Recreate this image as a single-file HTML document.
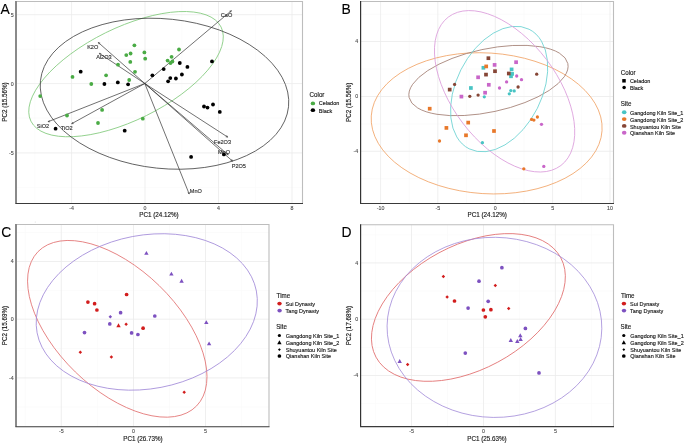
<!DOCTYPE html>
<html><head><meta charset="utf-8"><style>
html,body{margin:0;padding:0;background:#fff;}
body{width:685px;height:443px;overflow:hidden;font-family:"Liberation Sans", sans-serif;}
svg{display:block;will-change:transform;}
</style></head><body>
<svg width="685" height="443" viewBox="0 0 685 443" font-family='"Liberation Sans", sans-serif'>
<rect width="685" height="443" fill="#fff"/>
<line x1="34.9" y1="1.5" x2="34.9" y2="203.5" stroke="#f8f8f8" stroke-width="0.6"/>
<line x1="108.3" y1="1.5" x2="108.3" y2="203.5" stroke="#f8f8f8" stroke-width="0.6"/>
<line x1="181.8" y1="1.5" x2="181.8" y2="203.5" stroke="#f8f8f8" stroke-width="0.6"/>
<line x1="255.3" y1="1.5" x2="255.3" y2="203.5" stroke="#f8f8f8" stroke-width="0.6"/>
<line x1="16" y1="49.2" x2="302.5" y2="49.2" stroke="#f8f8f8" stroke-width="0.6"/>
<line x1="16" y1="118.0" x2="302.5" y2="118.0" stroke="#f8f8f8" stroke-width="0.6"/>
<line x1="16" y1="187.4" x2="302.5" y2="187.4" stroke="#f8f8f8" stroke-width="0.6"/>
<line x1="71.6" y1="1.5" x2="71.6" y2="203.5" stroke="#ebebeb" stroke-width="0.8"/>
<line x1="145.0" y1="1.5" x2="145.0" y2="203.5" stroke="#ebebeb" stroke-width="0.8"/>
<line x1="218.5" y1="1.5" x2="218.5" y2="203.5" stroke="#ebebeb" stroke-width="0.8"/>
<line x1="292" y1="1.5" x2="292" y2="203.5" stroke="#ebebeb" stroke-width="0.8"/>
<line x1="16" y1="14.7" x2="302.5" y2="14.7" stroke="#ebebeb" stroke-width="0.8"/>
<line x1="16" y1="83.6" x2="302.5" y2="83.6" stroke="#ebebeb" stroke-width="0.8"/>
<line x1="16" y1="152.9" x2="302.5" y2="152.9" stroke="#ebebeb" stroke-width="0.8"/>
<polyline points="16,1.5 302.5,1.5 302.5,203.5" fill="none" stroke="#bdbdbd" stroke-width="1.1"/>
<line x1="409.2" y1="1.5" x2="409.2" y2="203.5" stroke="#f8f8f8" stroke-width="0.6"/>
<line x1="466.5" y1="1.5" x2="466.5" y2="203.5" stroke="#f8f8f8" stroke-width="0.6"/>
<line x1="524" y1="1.5" x2="524" y2="203.5" stroke="#f8f8f8" stroke-width="0.6"/>
<line x1="581.3" y1="1.5" x2="581.3" y2="203.5" stroke="#f8f8f8" stroke-width="0.6"/>
<line x1="360.6" y1="14.2" x2="613.5" y2="14.2" stroke="#f8f8f8" stroke-width="0.6"/>
<line x1="360.6" y1="69" x2="613.5" y2="69" stroke="#f8f8f8" stroke-width="0.6"/>
<line x1="360.6" y1="124" x2="613.5" y2="124" stroke="#f8f8f8" stroke-width="0.6"/>
<line x1="360.6" y1="178.7" x2="613.5" y2="178.7" stroke="#f8f8f8" stroke-width="0.6"/>
<line x1="380.6" y1="1.5" x2="380.6" y2="203.5" stroke="#ebebeb" stroke-width="0.8"/>
<line x1="437.8" y1="1.5" x2="437.8" y2="203.5" stroke="#ebebeb" stroke-width="0.8"/>
<line x1="495.3" y1="1.5" x2="495.3" y2="203.5" stroke="#ebebeb" stroke-width="0.8"/>
<line x1="552.6" y1="1.5" x2="552.6" y2="203.5" stroke="#ebebeb" stroke-width="0.8"/>
<line x1="610" y1="1.5" x2="610" y2="203.5" stroke="#ebebeb" stroke-width="0.8"/>
<line x1="360.6" y1="41.5" x2="613.5" y2="41.5" stroke="#ebebeb" stroke-width="0.8"/>
<line x1="360.6" y1="96.5" x2="613.5" y2="96.5" stroke="#ebebeb" stroke-width="0.8"/>
<line x1="360.6" y1="151.3" x2="613.5" y2="151.3" stroke="#ebebeb" stroke-width="0.8"/>
<polyline points="360.6,1.5 613.5,1.5 613.5,203.5" fill="none" stroke="#bdbdbd" stroke-width="1.1"/>
<line x1="25.2" y1="224.5" x2="25.2" y2="426.7" stroke="#f8f8f8" stroke-width="0.6"/>
<line x1="97.4" y1="224.5" x2="97.4" y2="426.7" stroke="#f8f8f8" stroke-width="0.6"/>
<line x1="169.5" y1="224.5" x2="169.5" y2="426.7" stroke="#f8f8f8" stroke-width="0.6"/>
<line x1="241.6" y1="224.5" x2="241.6" y2="426.7" stroke="#f8f8f8" stroke-width="0.6"/>
<line x1="16" y1="232.5" x2="269" y2="232.5" stroke="#f8f8f8" stroke-width="0.6"/>
<line x1="16" y1="290.4" x2="269" y2="290.4" stroke="#f8f8f8" stroke-width="0.6"/>
<line x1="16" y1="348.5" x2="269" y2="348.5" stroke="#f8f8f8" stroke-width="0.6"/>
<line x1="16" y1="407" x2="269" y2="407" stroke="#f8f8f8" stroke-width="0.6"/>
<line x1="61.3" y1="224.5" x2="61.3" y2="426.7" stroke="#ebebeb" stroke-width="0.8"/>
<line x1="133.5" y1="224.5" x2="133.5" y2="426.7" stroke="#ebebeb" stroke-width="0.8"/>
<line x1="205.5" y1="224.5" x2="205.5" y2="426.7" stroke="#ebebeb" stroke-width="0.8"/>
<line x1="16" y1="261.5" x2="269" y2="261.5" stroke="#ebebeb" stroke-width="0.8"/>
<line x1="16" y1="319.2" x2="269" y2="319.2" stroke="#ebebeb" stroke-width="0.8"/>
<line x1="16" y1="377.9" x2="269" y2="377.9" stroke="#ebebeb" stroke-width="0.8"/>
<polyline points="16,224.5 269,224.5 269,426.7" fill="none" stroke="#bdbdbd" stroke-width="1.1"/>
<line x1="375.3" y1="224.7" x2="375.3" y2="426.6" stroke="#f8f8f8" stroke-width="0.6"/>
<line x1="447.5" y1="224.7" x2="447.5" y2="426.6" stroke="#f8f8f8" stroke-width="0.6"/>
<line x1="519.4" y1="224.7" x2="519.4" y2="426.6" stroke="#f8f8f8" stroke-width="0.6"/>
<line x1="591.4" y1="224.7" x2="591.4" y2="426.6" stroke="#f8f8f8" stroke-width="0.6"/>
<line x1="360.6" y1="234.8" x2="613.5" y2="234.8" stroke="#f8f8f8" stroke-width="0.6"/>
<line x1="360.6" y1="291" x2="613.5" y2="291" stroke="#f8f8f8" stroke-width="0.6"/>
<line x1="360.6" y1="347.3" x2="613.5" y2="347.3" stroke="#f8f8f8" stroke-width="0.6"/>
<line x1="360.6" y1="403.6" x2="613.5" y2="403.6" stroke="#f8f8f8" stroke-width="0.6"/>
<line x1="411.5" y1="224.7" x2="411.5" y2="426.6" stroke="#ebebeb" stroke-width="0.8"/>
<line x1="483.5" y1="224.7" x2="483.5" y2="426.6" stroke="#ebebeb" stroke-width="0.8"/>
<line x1="555.4" y1="224.7" x2="555.4" y2="426.6" stroke="#ebebeb" stroke-width="0.8"/>
<line x1="360.6" y1="262.9" x2="613.5" y2="262.9" stroke="#ebebeb" stroke-width="0.8"/>
<line x1="360.6" y1="319.2" x2="613.5" y2="319.2" stroke="#ebebeb" stroke-width="0.8"/>
<line x1="360.6" y1="375.5" x2="613.5" y2="375.5" stroke="#ebebeb" stroke-width="0.8"/>
<polyline points="360.6,224.7 613.5,224.7 613.5,426.6" fill="none" stroke="#bdbdbd" stroke-width="1.1"/>
<ellipse cx="126.03" cy="74.14" rx="106.1" ry="46.15" transform="rotate(153.69 126.03 74.14)" fill="none" stroke="#86cb80" stroke-width="0.8"/>
<ellipse cx="164.49" cy="93.72" rx="74.8" ry="124.73" transform="rotate(96.01 164.49 93.72)" fill="none" stroke="#444" stroke-width="0.8"/>
<line x1="144.8" y1="83.5" x2="231.4" y2="10.7" stroke="#333" stroke-width="0.7"/>
<line x1="231.4" y1="10.7" x2="229.46" y2="11.19" stroke="#333" stroke-width="0.6"/>
<line x1="231.4" y1="10.7" x2="230.58" y2="12.52" stroke="#333" stroke-width="0.6"/>
<line x1="144.8" y1="83.5" x2="98.3" y2="42.5" stroke="#333" stroke-width="0.7"/>
<line x1="98.3" y1="42.5" x2="99.08" y2="44.34" stroke="#333" stroke-width="0.6"/>
<line x1="98.3" y1="42.5" x2="100.23" y2="43.04" stroke="#333" stroke-width="0.6"/>
<line x1="144.8" y1="83.5" x2="99.3" y2="53.3" stroke="#333" stroke-width="0.7"/>
<line x1="99.3" y1="53.3" x2="100.32" y2="55.02" stroke="#333" stroke-width="0.6"/>
<line x1="99.3" y1="53.3" x2="101.28" y2="53.57" stroke="#333" stroke-width="0.6"/>
<line x1="144.8" y1="83.5" x2="48.1" y2="121.7" stroke="#333" stroke-width="0.7"/>
<line x1="48.1" y1="121.7" x2="50.09" y2="121.85" stroke="#333" stroke-width="0.6"/>
<line x1="48.1" y1="121.7" x2="49.46" y2="120.23" stroke="#333" stroke-width="0.6"/>
<line x1="144.8" y1="83.5" x2="71.7" y2="123.7" stroke="#333" stroke-width="0.7"/>
<line x1="71.7" y1="123.7" x2="73.70" y2="123.59" stroke="#333" stroke-width="0.6"/>
<line x1="71.7" y1="123.7" x2="72.86" y2="122.07" stroke="#333" stroke-width="0.6"/>
<line x1="144.8" y1="83.5" x2="227.7" y2="137.1" stroke="#333" stroke-width="0.7"/>
<line x1="227.7" y1="137.1" x2="226.66" y2="135.39" stroke="#333" stroke-width="0.6"/>
<line x1="227.7" y1="137.1" x2="225.72" y2="136.85" stroke="#333" stroke-width="0.6"/>
<line x1="144.8" y1="83.5" x2="228.2" y2="154.8" stroke="#333" stroke-width="0.7"/>
<line x1="228.2" y1="154.8" x2="227.40" y2="152.97" stroke="#333" stroke-width="0.6"/>
<line x1="228.2" y1="154.8" x2="226.27" y2="154.29" stroke="#333" stroke-width="0.6"/>
<line x1="144.8" y1="83.5" x2="232.5" y2="161.1" stroke="#333" stroke-width="0.7"/>
<line x1="232.5" y1="161.1" x2="231.73" y2="159.26" stroke="#333" stroke-width="0.6"/>
<line x1="232.5" y1="161.1" x2="230.57" y2="160.56" stroke="#333" stroke-width="0.6"/>
<line x1="144.8" y1="83.5" x2="189.2" y2="194" stroke="#333" stroke-width="0.7"/>
<line x1="189.2" y1="194" x2="189.34" y2="192.00" stroke="#333" stroke-width="0.6"/>
<line x1="189.2" y1="194" x2="187.72" y2="192.65" stroke="#333" stroke-width="0.6"/>
<text x="0" y="0" font-size="5.82" fill="#333" stroke="#333" stroke-width="0.15" text-anchor="middle" transform="translate(226.5 16.9) scale(0.9615 1)">CaO</text>
<text x="0" y="0" font-size="5.82" fill="#333" stroke="#333" stroke-width="0.15" text-anchor="middle" transform="translate(92.7 48.5) scale(0.9615 1)">K2O</text>
<text x="0" y="0" font-size="5.82" fill="#333" stroke="#333" stroke-width="0.15" text-anchor="middle" transform="translate(103.9 59) scale(0.9615 1)">Al2O3</text>
<text x="0" y="0" font-size="5.82" fill="#333" stroke="#333" stroke-width="0.15" text-anchor="middle" transform="translate(43 127.6) scale(0.9615 1)">SiO2</text>
<text x="0" y="0" font-size="5.82" fill="#333" stroke="#333" stroke-width="0.15" text-anchor="middle" transform="translate(66.7 129.8) scale(0.9615 1)">TiO2</text>
<text x="0" y="0" font-size="5.82" fill="#333" stroke="#333" stroke-width="0.15" text-anchor="middle" transform="translate(222.5 143.6) scale(0.9615 1)">Fe2O3</text>
<text x="0" y="0" font-size="5.82" fill="#333" stroke="#333" stroke-width="0.15" text-anchor="middle" transform="translate(224 154.2) scale(0.9615 1)">MgO</text>
<text x="0" y="0" font-size="5.82" fill="#333" stroke="#333" stroke-width="0.15" text-anchor="middle" transform="translate(238.8 167.8) scale(0.9615 1)">P2O5</text>
<text x="0" y="0" font-size="5.82" fill="#333" stroke="#333" stroke-width="0.15" text-anchor="middle" transform="translate(195.8 192.9) scale(0.9615 1)">MnO</text>
<circle cx="134.4" cy="45.3" r="1.9" fill="#4aab45"/>
<circle cx="130.6" cy="53.5" r="1.9" fill="#4aab45"/>
<circle cx="126.3" cy="55.1" r="1.9" fill="#4aab45"/>
<circle cx="144.4" cy="52.4" r="1.9" fill="#4aab45"/>
<circle cx="145.2" cy="58.7" r="1.9" fill="#4aab45"/>
<circle cx="130.3" cy="61.9" r="1.9" fill="#4aab45"/>
<circle cx="118" cy="64.7" r="1.9" fill="#4aab45"/>
<circle cx="135" cy="71.8" r="1.9" fill="#4aab45"/>
<circle cx="106.1" cy="75.3" r="1.9" fill="#4aab45"/>
<circle cx="72.5" cy="76.9" r="1.9" fill="#4aab45"/>
<circle cx="91.3" cy="84" r="1.9" fill="#4aab45"/>
<circle cx="129.2" cy="80" r="1.9" fill="#4aab45"/>
<circle cx="179" cy="49.5" r="1.9" fill="#4aab45"/>
<circle cx="171.6" cy="56.8" r="1.9" fill="#4aab45"/>
<circle cx="167.6" cy="60.6" r="1.9" fill="#4aab45"/>
<circle cx="172.4" cy="61.5" r="1.9" fill="#4aab45"/>
<circle cx="170.5" cy="63" r="1.9" fill="#4aab45"/>
<circle cx="142.8" cy="118.7" r="1.9" fill="#4aab45"/>
<circle cx="40.2" cy="96.1" r="1.9" fill="#4aab45"/>
<circle cx="67" cy="115.5" r="1.9" fill="#4aab45"/>
<circle cx="102.1" cy="109.9" r="1.9" fill="#4aab45"/>
<circle cx="98" cy="123" r="1.9" fill="#4aab45"/>
<circle cx="80.7" cy="71.7" r="1.9" fill="#000"/>
<circle cx="152.4" cy="75.3" r="1.9" fill="#000"/>
<circle cx="104.4" cy="84" r="1.9" fill="#000"/>
<circle cx="117.8" cy="82.4" r="1.9" fill="#000"/>
<circle cx="128.1" cy="84.3" r="1.9" fill="#000"/>
<circle cx="163.7" cy="69.1" r="1.9" fill="#000"/>
<circle cx="179.8" cy="63" r="1.9" fill="#000"/>
<circle cx="187.4" cy="66.9" r="1.9" fill="#000"/>
<circle cx="181.9" cy="74.5" r="1.9" fill="#000"/>
<circle cx="175.9" cy="78.5" r="1.9" fill="#000"/>
<circle cx="170.3" cy="78.1" r="1.9" fill="#000"/>
<circle cx="168.1" cy="81.3" r="1.9" fill="#000"/>
<circle cx="212" cy="61.4" r="1.9" fill="#000"/>
<circle cx="204" cy="106.5" r="1.9" fill="#000"/>
<circle cx="207.5" cy="107.6" r="1.9" fill="#000"/>
<circle cx="213" cy="104.5" r="1.9" fill="#000"/>
<circle cx="219.8" cy="111.9" r="1.9" fill="#000"/>
<circle cx="191.1" cy="156.9" r="1.9" fill="#000"/>
<circle cx="223.9" cy="154.4" r="1.9" fill="#000"/>
<circle cx="55.6" cy="128.7" r="1.9" fill="#000"/>
<circle cx="124.7" cy="130.7" r="1.9" fill="#000"/>
<ellipse cx="486.65" cy="123.33" rx="70.37" ry="115.63" transform="rotate(93.67 486.65 123.33)" fill="none" stroke="#f0a060" stroke-width="0.8"/>
<ellipse cx="488.47" cy="80.5" rx="31.58" ry="81.15" transform="rotate(77.96 488.47 80.5)" fill="none" stroke="#a47f74" stroke-width="0.8"/>
<ellipse cx="499.13" cy="89.04" rx="42.81" ry="66.88" transform="rotate(-153.37 499.13 89.04)" fill="none" stroke="#6fd3d3" stroke-width="0.8"/>
<ellipse cx="504.6" cy="91.29" rx="93.15" ry="52.56" transform="rotate(-127.18 504.6 91.29)" fill="none" stroke="#dc9edc" stroke-width="0.8"/>
<rect x="481.55" y="65.95" width="3.7" height="3.7" fill="#48c4c4"/>
<rect x="509.75" y="67.55" width="3.7" height="3.7" fill="#48c4c4"/>
<rect x="510.25" y="72.05" width="3.7" height="3.7" fill="#48c4c4"/>
<rect x="509.15" y="74.45" width="3.7" height="3.7" fill="#48c4c4"/>
<rect x="469.05" y="86.15" width="3.7" height="3.7" fill="#48c4c4"/>
<circle cx="510.8" cy="90.6" r="1.65" fill="#48c4c4"/>
<circle cx="514.2" cy="90.9" r="1.65" fill="#48c4c4"/>
<circle cx="509.3" cy="93.8" r="1.65" fill="#48c4c4"/>
<circle cx="484.3" cy="96.8" r="1.65" fill="#48c4c4"/>
<circle cx="482.4" cy="142.7" r="1.65" fill="#48c4c4"/>
<rect x="484.35" y="64.55" width="3.7" height="3.7" fill="#e8782a"/>
<rect x="427.85" y="106.85" width="3.7" height="3.7" fill="#e8782a"/>
<rect x="444.55" y="126.05" width="3.7" height="3.7" fill="#e8782a"/>
<rect x="466.35" y="120.75" width="3.7" height="3.7" fill="#e8782a"/>
<rect x="464.15" y="133.45" width="3.7" height="3.7" fill="#e8782a"/>
<rect x="492.15" y="129.15" width="3.7" height="3.7" fill="#e8782a"/>
<circle cx="439.5" cy="141" r="1.65" fill="#e8782a"/>
<circle cx="531.6" cy="119.4" r="1.65" fill="#e8782a"/>
<circle cx="533.9" cy="120.1" r="1.65" fill="#e8782a"/>
<circle cx="537.4" cy="117" r="1.65" fill="#e8782a"/>
<circle cx="523.8" cy="168.8" r="1.65" fill="#e8782a"/>
<rect x="486.55" y="56.35" width="3.7" height="3.7" fill="#864636"/>
<rect x="493.15" y="69.35" width="3.7" height="3.7" fill="#864636"/>
<rect x="484.15" y="72.75" width="3.7" height="3.7" fill="#864636"/>
<rect x="506.95" y="71.65" width="3.7" height="3.7" fill="#864636"/>
<rect x="447.85" y="87.75" width="3.7" height="3.7" fill="#864636"/>
<circle cx="518.1" cy="87" r="1.65" fill="#864636"/>
<circle cx="478.1" cy="95.1" r="1.65" fill="#864636"/>
<circle cx="469.8" cy="96.3" r="1.65" fill="#864636"/>
<circle cx="454.6" cy="84.4" r="1.65" fill="#864636"/>
<circle cx="536.7" cy="74.2" r="1.65" fill="#864636"/>
<rect x="514.25" y="60.35" width="3.7" height="3.7" fill="#c966c9"/>
<rect x="492.75" y="63.05" width="3.7" height="3.7" fill="#c966c9"/>
<rect x="476.25" y="75.45" width="3.7" height="3.7" fill="#c966c9"/>
<rect x="486.95" y="82.95" width="3.7" height="3.7" fill="#c966c9"/>
<rect x="483.25" y="90.85" width="3.7" height="3.7" fill="#c966c9"/>
<rect x="459.55" y="94.75" width="3.7" height="3.7" fill="#c966c9"/>
<circle cx="516.7" cy="76" r="1.65" fill="#c966c9"/>
<circle cx="521.5" cy="79.7" r="1.65" fill="#c966c9"/>
<circle cx="506.6" cy="81.9" r="1.65" fill="#c966c9"/>
<circle cx="499.5" cy="88" r="1.65" fill="#c966c9"/>
<circle cx="541.5" cy="124.3" r="1.65" fill="#c966c9"/>
<circle cx="543.8" cy="166.4" r="1.65" fill="#c966c9"/>
<ellipse cx="117.27" cy="328.82" rx="110.62" ry="60.18" transform="rotate(-135.8 117.27 328.82)" fill="none" stroke="#e27070" stroke-width="0.8"/>
<ellipse cx="146.75" cy="311.95" rx="111.62" ry="76.75" transform="rotate(169.22 146.75 311.95)" fill="none" stroke="#a28ad8" stroke-width="0.8"/>
<circle cx="87.9" cy="302.1" r="1.85" fill="#d21d1d"/>
<circle cx="94.6" cy="303.7" r="1.85" fill="#d21d1d"/>
<circle cx="96.9" cy="310" r="1.85" fill="#d21d1d"/>
<circle cx="126.6" cy="294.5" r="1.85" fill="#d21d1d"/>
<circle cx="143.1" cy="328.2" r="1.85" fill="#d21d1d"/>
<polygon points="116.30,327.25 120.70,327.25 118.50,323.35" fill="#d21d1d"/>
<polygon points="126.10,322.45 127.85,324.20 126.10,325.95 124.35,324.20" fill="#d21d1d"/>
<polygon points="80.30,350.55 82.05,352.30 80.30,354.05 78.55,352.30" fill="#d21d1d"/>
<polygon points="111.40,355.15 113.15,356.90 111.40,358.65 109.65,356.90" fill="#d21d1d"/>
<polygon points="184.20,390.45 185.95,392.20 184.20,393.95 182.45,392.20" fill="#d21d1d"/>
<circle cx="120.6" cy="312.7" r="1.85" fill="#7d51c0"/>
<circle cx="109.8" cy="323.9" r="1.85" fill="#7d51c0"/>
<circle cx="154.8" cy="316" r="1.85" fill="#7d51c0"/>
<circle cx="131.6" cy="332.9" r="1.85" fill="#7d51c0"/>
<circle cx="137.9" cy="334.5" r="1.85" fill="#7d51c0"/>
<circle cx="84.5" cy="332.6" r="1.85" fill="#7d51c0"/>
<polygon points="110.30,315.05 112.05,316.80 110.30,318.55 108.55,316.80" fill="#7d51c0"/>
<polygon points="144.20,254.85 148.60,254.85 146.40,250.95" fill="#7d51c0"/>
<polygon points="169.20,275.55 173.60,275.55 171.40,271.65" fill="#7d51c0"/>
<polygon points="179.40,282.75 183.80,282.75 181.60,278.85" fill="#7d51c0"/>
<polygon points="204.10,324.05 208.50,324.05 206.30,320.15" fill="#7d51c0"/>
<polygon points="206.90,345.35 211.30,345.35 209.10,341.45" fill="#7d51c0"/>
<ellipse cx="468.4" cy="307.46" rx="104.91" ry="62.07" transform="rotate(151.72 468.4 307.46)" fill="none" stroke="#e27070" stroke-width="0.8"/>
<ellipse cx="494.44" cy="327.37" rx="90.07" ry="107.38" transform="rotate(90.79 494.44 327.37)" fill="none" stroke="#a28ad8" stroke-width="0.8"/>
<polygon points="443.40,274.85 445.15,276.60 443.40,278.35 441.65,276.60" fill="#d21d1d"/>
<polygon points="495.30,283.75 497.05,285.50 495.30,287.25 493.55,285.50" fill="#d21d1d"/>
<polygon points="447.10,295.15 448.85,296.90 447.10,298.65 445.35,296.90" fill="#d21d1d"/>
<polygon points="508.70,306.65 510.45,308.40 508.70,310.15 506.95,308.40" fill="#d21d1d"/>
<polygon points="407.60,362.75 409.35,364.50 407.60,366.25 405.85,364.50" fill="#d21d1d"/>
<circle cx="454.5" cy="301" r="1.85" fill="#d21d1d"/>
<circle cx="483.4" cy="310" r="1.85" fill="#d21d1d"/>
<circle cx="490.9" cy="309.7" r="1.85" fill="#d21d1d"/>
<circle cx="485.3" cy="316.8" r="1.85" fill="#d21d1d"/>
<circle cx="501.9" cy="267.7" r="1.85" fill="#7d51c0"/>
<circle cx="479" cy="281.2" r="1.85" fill="#7d51c0"/>
<circle cx="488.2" cy="301.3" r="1.85" fill="#7d51c0"/>
<circle cx="468.1" cy="308.1" r="1.85" fill="#7d51c0"/>
<circle cx="525.4" cy="328.4" r="1.85" fill="#7d51c0"/>
<circle cx="465.3" cy="353.1" r="1.85" fill="#7d51c0"/>
<circle cx="539" cy="372.9" r="1.85" fill="#7d51c0"/>
<polygon points="518.10,337.15 522.50,337.15 520.30,333.25" fill="#7d51c0"/>
<polygon points="508.60,341.95 513.00,341.95 510.80,338.05" fill="#7d51c0"/>
<polygon points="515.10,342.95 519.50,342.95 517.30,339.05" fill="#7d51c0"/>
<polygon points="518.40,340.95 522.80,340.95 520.60,337.05" fill="#7d51c0"/>
<polygon points="397.50,362.95 401.90,362.95 399.70,359.05" fill="#7d51c0"/>
<circle cx="35.3" cy="222" r="0.6" fill="#ddd"/>
<line x1="16" y1="1.0" x2="16" y2="203.5" stroke="#8a8a8a" stroke-width="2"/>
<line x1="15.4" y1="203.5" x2="303.0" y2="203.5" stroke="#3a3a3a" stroke-width="1.1"/>
<text x="0" y="0" font-size="5.51" fill="#4d4d4d" stroke="#4d4d4d" stroke-width="0.12" text-anchor="end" transform="translate(13.6 16.599999999999998) scale(0.9615 1)">5</text>
<text x="0" y="0" font-size="5.51" fill="#4d4d4d" stroke="#4d4d4d" stroke-width="0.12" text-anchor="end" transform="translate(13.6 85.5) scale(0.9615 1)">0</text>
<text x="0" y="0" font-size="5.51" fill="#4d4d4d" stroke="#4d4d4d" stroke-width="0.12" text-anchor="end" transform="translate(13.6 154.8) scale(0.9615 1)">-5</text>
<text x="0" y="0" font-size="5.51" fill="#4d4d4d" stroke="#4d4d4d" stroke-width="0.12" text-anchor="middle" transform="translate(71.6 210.1) scale(0.9615 1)">-4</text>
<text x="0" y="0" font-size="5.51" fill="#4d4d4d" stroke="#4d4d4d" stroke-width="0.12" text-anchor="middle" transform="translate(145.0 210.1) scale(0.9615 1)">0</text>
<text x="0" y="0" font-size="5.51" fill="#4d4d4d" stroke="#4d4d4d" stroke-width="0.12" text-anchor="middle" transform="translate(218.5 210.1) scale(0.9615 1)">4</text>
<text x="0" y="0" font-size="5.51" fill="#4d4d4d" stroke="#4d4d4d" stroke-width="0.12" text-anchor="middle" transform="translate(292 210.1) scale(0.9615 1)">8</text>
<line x1="360.6" y1="1.0" x2="360.6" y2="203.5" stroke="#333" stroke-width="1.2"/>
<line x1="360.0" y1="203.5" x2="614.0" y2="203.5" stroke="#3a3a3a" stroke-width="1.1"/>
<text x="0" y="0" font-size="5.51" fill="#4d4d4d" stroke="#4d4d4d" stroke-width="0.12" text-anchor="end" transform="translate(358.20000000000005 43.4) scale(0.9615 1)">4</text>
<text x="0" y="0" font-size="5.51" fill="#4d4d4d" stroke="#4d4d4d" stroke-width="0.12" text-anchor="end" transform="translate(358.20000000000005 98.4) scale(0.9615 1)">0</text>
<text x="0" y="0" font-size="5.51" fill="#4d4d4d" stroke="#4d4d4d" stroke-width="0.12" text-anchor="end" transform="translate(358.20000000000005 153.20000000000002) scale(0.9615 1)">-4</text>
<text x="0" y="0" font-size="5.51" fill="#4d4d4d" stroke="#4d4d4d" stroke-width="0.12" text-anchor="middle" transform="translate(380.6 210.1) scale(0.9615 1)">-10</text>
<text x="0" y="0" font-size="5.51" fill="#4d4d4d" stroke="#4d4d4d" stroke-width="0.12" text-anchor="middle" transform="translate(437.8 210.1) scale(0.9615 1)">-5</text>
<text x="0" y="0" font-size="5.51" fill="#4d4d4d" stroke="#4d4d4d" stroke-width="0.12" text-anchor="middle" transform="translate(495.3 210.1) scale(0.9615 1)">0</text>
<text x="0" y="0" font-size="5.51" fill="#4d4d4d" stroke="#4d4d4d" stroke-width="0.12" text-anchor="middle" transform="translate(552.6 210.1) scale(0.9615 1)">5</text>
<text x="0" y="0" font-size="5.51" fill="#4d4d4d" stroke="#4d4d4d" stroke-width="0.12" text-anchor="middle" transform="translate(610 210.1) scale(0.9615 1)">10</text>
<line x1="16" y1="224.0" x2="16" y2="426.7" stroke="#8a8a8a" stroke-width="2"/>
<line x1="15.4" y1="426.7" x2="269.5" y2="426.7" stroke="#3a3a3a" stroke-width="1.1"/>
<text x="0" y="0" font-size="5.51" fill="#4d4d4d" stroke="#4d4d4d" stroke-width="0.12" text-anchor="end" transform="translate(13.6 263.4) scale(0.9615 1)">4</text>
<text x="0" y="0" font-size="5.51" fill="#4d4d4d" stroke="#4d4d4d" stroke-width="0.12" text-anchor="end" transform="translate(13.6 321.09999999999997) scale(0.9615 1)">0</text>
<text x="0" y="0" font-size="5.51" fill="#4d4d4d" stroke="#4d4d4d" stroke-width="0.12" text-anchor="end" transform="translate(13.6 379.79999999999995) scale(0.9615 1)">-4</text>
<text x="0" y="0" font-size="5.51" fill="#4d4d4d" stroke="#4d4d4d" stroke-width="0.12" text-anchor="middle" transform="translate(61.3 433.3) scale(0.9615 1)">-5</text>
<text x="0" y="0" font-size="5.51" fill="#4d4d4d" stroke="#4d4d4d" stroke-width="0.12" text-anchor="middle" transform="translate(133.5 433.3) scale(0.9615 1)">0</text>
<text x="0" y="0" font-size="5.51" fill="#4d4d4d" stroke="#4d4d4d" stroke-width="0.12" text-anchor="middle" transform="translate(205.5 433.3) scale(0.9615 1)">5</text>
<line x1="360.6" y1="224.2" x2="360.6" y2="426.6" stroke="#333" stroke-width="1.2"/>
<line x1="360.0" y1="426.6" x2="614.0" y2="426.6" stroke="#3a3a3a" stroke-width="1.1"/>
<text x="0" y="0" font-size="5.51" fill="#4d4d4d" stroke="#4d4d4d" stroke-width="0.12" text-anchor="end" transform="translate(358.20000000000005 264.79999999999995) scale(0.9615 1)">4</text>
<text x="0" y="0" font-size="5.51" fill="#4d4d4d" stroke="#4d4d4d" stroke-width="0.12" text-anchor="end" transform="translate(358.20000000000005 321.09999999999997) scale(0.9615 1)">0</text>
<text x="0" y="0" font-size="5.51" fill="#4d4d4d" stroke="#4d4d4d" stroke-width="0.12" text-anchor="end" transform="translate(358.20000000000005 377.4) scale(0.9615 1)">-4</text>
<text x="0" y="0" font-size="5.51" fill="#4d4d4d" stroke="#4d4d4d" stroke-width="0.12" text-anchor="middle" transform="translate(411.5 433.20000000000005) scale(0.9615 1)">-5</text>
<text x="0" y="0" font-size="5.51" fill="#4d4d4d" stroke="#4d4d4d" stroke-width="0.12" text-anchor="middle" transform="translate(483.5 433.20000000000005) scale(0.9615 1)">0</text>
<text x="0" y="0" font-size="5.51" fill="#4d4d4d" stroke="#4d4d4d" stroke-width="0.12" text-anchor="middle" transform="translate(555.4 433.20000000000005) scale(0.9615 1)">5</text>
<text x="0" y="0" font-size="6.55" fill="#1a1a1a" stroke="#1a1a1a" stroke-width="0.15" text-anchor="middle" transform="translate(6.9 102) rotate(-90) scale(0.9615 1)">PC2 (15.56%)</text>
<text x="0" y="0" font-size="6.55" fill="#1a1a1a" stroke="#1a1a1a" stroke-width="0.15" text-anchor="middle" transform="translate(159 216.8) scale(0.9615 1)">PC1 (24.12%)</text>
<text x="0" y="0" font-size="6.55" fill="#1a1a1a" stroke="#1a1a1a" stroke-width="0.15" text-anchor="middle" transform="translate(351.3 102.3) rotate(-90) scale(0.9615 1)">PC2 (15.56%)</text>
<text x="0" y="0" font-size="6.55" fill="#1a1a1a" stroke="#1a1a1a" stroke-width="0.15" text-anchor="middle" transform="translate(487.2 216.9) scale(0.9615 1)">PC1 (24.12%)</text>
<text x="0" y="0" font-size="6.55" fill="#1a1a1a" stroke="#1a1a1a" stroke-width="0.15" text-anchor="middle" transform="translate(6.9 325.5) rotate(-90) scale(0.9615 1)">PC2 (15.69%)</text>
<text x="0" y="0" font-size="6.55" fill="#1a1a1a" stroke="#1a1a1a" stroke-width="0.15" text-anchor="middle" transform="translate(143 440.5) scale(0.9615 1)">PC1 (26.73%)</text>
<text x="0" y="0" font-size="6.55" fill="#1a1a1a" stroke="#1a1a1a" stroke-width="0.15" text-anchor="middle" transform="translate(350.8 325.5) rotate(-90) scale(0.9615 1)">PC2 (17.68%)</text>
<text x="0" y="0" font-size="6.55" fill="#1a1a1a" stroke="#1a1a1a" stroke-width="0.15" text-anchor="middle" transform="translate(487 440.7) scale(0.9615 1)">PC1 (25.63%)</text>
<text x="0" y="0" font-size="14.73" fill="#000" stroke="#000" stroke-width="0.1" text-anchor="start" transform="translate(0.6 13.7) scale(0.9434 1)">A</text>
<text x="0" y="0" font-size="14.73" fill="#000" stroke="#000" stroke-width="0.1" text-anchor="start" transform="translate(341.5 13.7) scale(0.9434 1)">B</text>
<text x="0" y="0" font-size="14.73" fill="#000" stroke="#000" stroke-width="0.1" text-anchor="start" transform="translate(1.2 236.9) scale(0.9434 1)">C</text>
<text x="0" y="0" font-size="14.73" fill="#000" stroke="#000" stroke-width="0.1" text-anchor="start" transform="translate(341.5 236.9) scale(0.9434 1)">D</text>
<text x="0" y="0" font-size="6.45" fill="#1a1a1a" stroke="#1a1a1a" stroke-width="0.15" text-anchor="start" transform="translate(309.6 97.1) scale(0.9615 1)">Color</text>
<ellipse cx="312.9" cy="103.4" rx="2.2" ry="1.9" fill="#4aab45"/>
<text x="0" y="0" font-size="5.72" fill="#1a1a1a" stroke="#1a1a1a" stroke-width="0.15" text-anchor="start" transform="translate(318.8 105.4) scale(0.9615 1)">Celadon</text>
<ellipse cx="312.9" cy="110.2" rx="2.2" ry="1.9" fill="#000"/>
<text x="0" y="0" font-size="5.72" fill="#1a1a1a" stroke="#1a1a1a" stroke-width="0.15" text-anchor="start" transform="translate(318.8 112.5) scale(0.9615 1)">Black</text>
<text x="0" y="0" font-size="6.45" fill="#1a1a1a" stroke="#1a1a1a" stroke-width="0.15" text-anchor="start" transform="translate(620.8 74.5) scale(0.9615 1)">Color</text>
<rect x="622.25" y="79.05" width="3.5" height="3.5" fill="#000"/>
<text x="0" y="0" font-size="5.72" fill="#1a1a1a" stroke="#1a1a1a" stroke-width="0.15" text-anchor="start" transform="translate(629.9 83.1) scale(0.9615 1)">Celadon</text>
<circle cx="624.1" cy="87.5" r="1.75" fill="#000"/>
<text x="0" y="0" font-size="5.72" fill="#1a1a1a" stroke="#1a1a1a" stroke-width="0.15" text-anchor="start" transform="translate(629.9 89.8) scale(0.9615 1)">Black</text>
<text x="0" y="0" font-size="6.45" fill="#1a1a1a" stroke="#1a1a1a" stroke-width="0.15" text-anchor="start" transform="translate(620.8 106.1) scale(0.9615 1)">Site</text>
<ellipse cx="624.2" cy="112.3" rx="2.3" ry="1.95" fill="#48c4c4"/>
<text x="0" y="0" font-size="5.72" fill="#1a1a1a" stroke="#1a1a1a" stroke-width="0.15" text-anchor="start" transform="translate(629.9 115.0) scale(0.9615 1)">Gangdong Kiln Site_1</text>
<ellipse cx="624.2" cy="119.1" rx="2.3" ry="1.95" fill="#e8782a"/>
<text x="0" y="0" font-size="5.72" fill="#1a1a1a" stroke="#1a1a1a" stroke-width="0.15" text-anchor="start" transform="translate(629.9 121.8) scale(0.9615 1)">Gangdong Kiln Site_2</text>
<ellipse cx="624.2" cy="125.89999999999999" rx="2.3" ry="1.95" fill="#864636"/>
<text x="0" y="0" font-size="5.72" fill="#1a1a1a" stroke="#1a1a1a" stroke-width="0.15" text-anchor="start" transform="translate(629.9 128.6) scale(0.9615 1)">Shuyuantou Kiln Site</text>
<ellipse cx="624.2" cy="132.7" rx="2.3" ry="1.95" fill="#c966c9"/>
<text x="0" y="0" font-size="5.72" fill="#1a1a1a" stroke="#1a1a1a" stroke-width="0.15" text-anchor="start" transform="translate(629.9 135.39999999999998) scale(0.9615 1)">Qianshan Kiln Site</text>
<text x="0" y="0" font-size="6.45" fill="#1a1a1a" stroke="#1a1a1a" stroke-width="0.15" text-anchor="start" transform="translate(276.6 297.5) scale(0.9615 1)">Time</text>
<ellipse cx="279.5" cy="303.6" rx="2.2" ry="1.9" fill="#d21d1d"/>
<text x="0" y="0" font-size="5.72" fill="#1a1a1a" stroke="#1a1a1a" stroke-width="0.15" text-anchor="start" transform="translate(285.6 306.2) scale(0.9615 1)">Sui Dynasty</text>
<ellipse cx="279.6" cy="310.6" rx="2.2" ry="1.9" fill="#7d51c0"/>
<text x="0" y="0" font-size="5.72" fill="#1a1a1a" stroke="#1a1a1a" stroke-width="0.15" text-anchor="start" transform="translate(285.6 313.4) scale(0.9615 1)">Tang Dynasty</text>
<text x="0" y="0" font-size="6.45" fill="#1a1a1a" stroke="#1a1a1a" stroke-width="0.15" text-anchor="start" transform="translate(276.2 328.9) scale(0.9615 1)">Site</text>
<circle cx="279.4" cy="335.5" r="1.6" fill="#000"/>
<text x="0" y="0" font-size="5.72" fill="#1a1a1a" stroke="#1a1a1a" stroke-width="0.15" text-anchor="start" transform="translate(285.8 338.2) scale(0.9615 1)">Gangdong Kiln Site_1</text>
<polygon points="277.20,344.15 281.60,344.15 279.40,340.25" fill="#000"/>
<text x="0" y="0" font-size="5.72" fill="#1a1a1a" stroke="#1a1a1a" stroke-width="0.15" text-anchor="start" transform="translate(285.8 345) scale(0.9615 1)">Gangdong Kiln Site_2</text>
<polygon points="279.40,348.20 280.80,349.60 279.40,351.00 278.00,349.60" fill="#000"/>
<text x="0" y="0" font-size="5.72" fill="#1a1a1a" stroke="#1a1a1a" stroke-width="0.15" text-anchor="start" transform="translate(285.8 351.9) scale(0.9615 1)">Shuyuantou Kiln Site</text>
<circle cx="279.4" cy="356" r="1.85" fill="#000"/>
<text x="0" y="0" font-size="5.72" fill="#1a1a1a" stroke="#1a1a1a" stroke-width="0.15" text-anchor="start" transform="translate(285.8 358.3) scale(0.9615 1)">Qianshan Kiln Site</text>
<text x="0" y="0" font-size="6.45" fill="#1a1a1a" stroke="#1a1a1a" stroke-width="0.15" text-anchor="start" transform="translate(621.0 297.5) scale(0.9615 1)">Time</text>
<ellipse cx="623.9" cy="303.6" rx="2.2" ry="1.9" fill="#d21d1d"/>
<text x="0" y="0" font-size="5.72" fill="#1a1a1a" stroke="#1a1a1a" stroke-width="0.15" text-anchor="start" transform="translate(630.0 306.2) scale(0.9615 1)">Sui Dynasty</text>
<ellipse cx="624.0" cy="310.6" rx="2.2" ry="1.9" fill="#7d51c0"/>
<text x="0" y="0" font-size="5.72" fill="#1a1a1a" stroke="#1a1a1a" stroke-width="0.15" text-anchor="start" transform="translate(630.0 313.4) scale(0.9615 1)">Tang Dynasty</text>
<text x="0" y="0" font-size="6.45" fill="#1a1a1a" stroke="#1a1a1a" stroke-width="0.15" text-anchor="start" transform="translate(620.5999999999999 328.9) scale(0.9615 1)">Site</text>
<circle cx="623.8" cy="335.5" r="1.6" fill="#000"/>
<text x="0" y="0" font-size="5.72" fill="#1a1a1a" stroke="#1a1a1a" stroke-width="0.15" text-anchor="start" transform="translate(630.2 338.2) scale(0.9615 1)">Gangdong Kiln Site_1</text>
<polygon points="621.60,344.15 626.00,344.15 623.80,340.25" fill="#000"/>
<text x="0" y="0" font-size="5.72" fill="#1a1a1a" stroke="#1a1a1a" stroke-width="0.15" text-anchor="start" transform="translate(630.2 345) scale(0.9615 1)">Gangdong Kiln Site_2</text>
<polygon points="623.80,348.20 625.20,349.60 623.80,351.00 622.40,349.60" fill="#000"/>
<text x="0" y="0" font-size="5.72" fill="#1a1a1a" stroke="#1a1a1a" stroke-width="0.15" text-anchor="start" transform="translate(630.2 351.9) scale(0.9615 1)">Shuyuantou Kiln Site</text>
<circle cx="623.8" cy="356" r="1.85" fill="#000"/>
<text x="0" y="0" font-size="5.72" fill="#1a1a1a" stroke="#1a1a1a" stroke-width="0.15" text-anchor="start" transform="translate(630.2 358.3) scale(0.9615 1)">Qianshan Kiln Site</text>
</svg>
</body></html>
